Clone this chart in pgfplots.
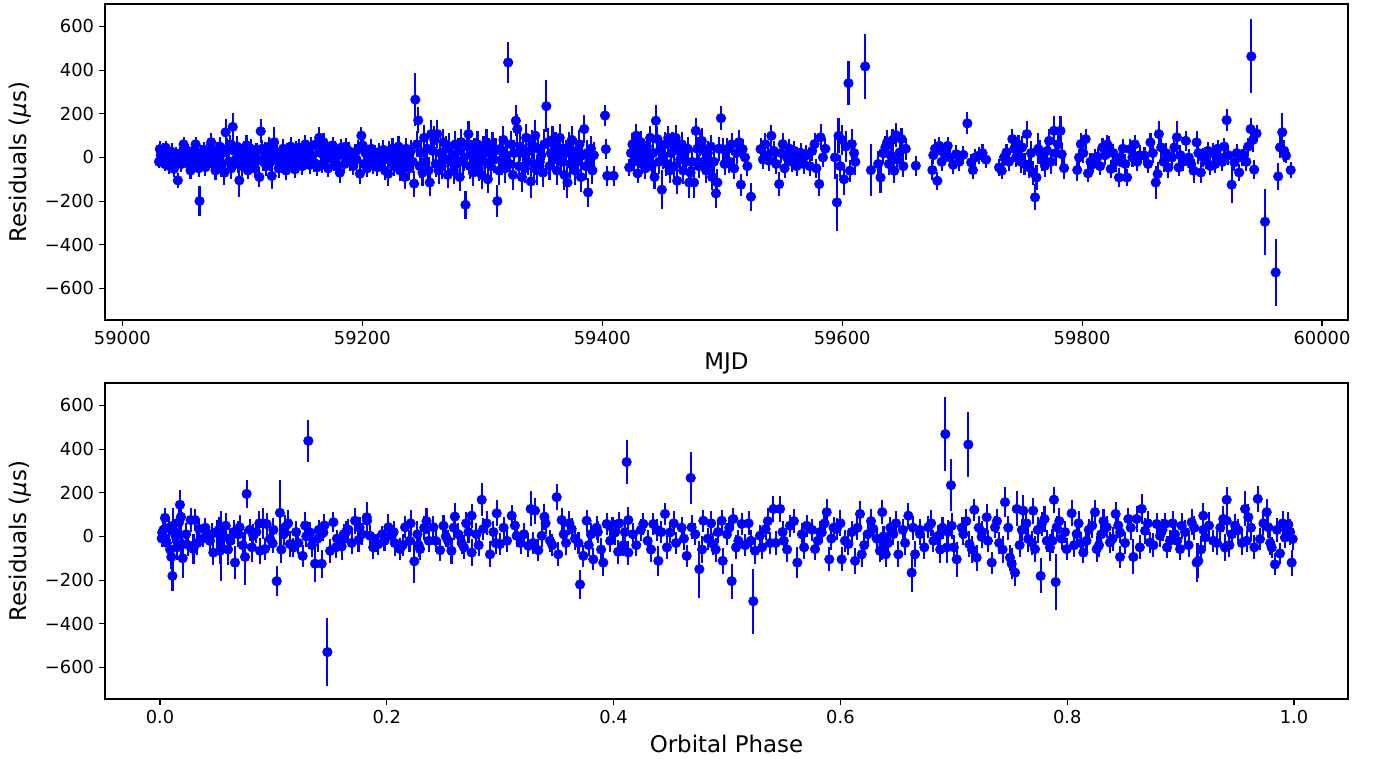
\documentclass[border=0pt]{standalone}
\usepackage{fontspec}
\setmainfont{DejaVu Sans}
\usepackage{pgfplots}
\pgfplotsset{compat=1.18}
\usepackage{pgfplotstable}

\pgfplotstableread{
x y e
59030.5 -20 30
59031.2 38 35
59032.0 10 30
59033.1 -5 40
59034.0 30 35
59035.2 -30 30
59036.0 45 30
59036.8 -15 35
59038.0 20 30
59039.1 -40 35
59040.0 5 30
59041.2 25 40
59042.3 -20 30
59043.0 -53 35
59044.1 0 30
59045.0 15 35
59046.2 -105 35
59047.5 -10 30
59048.3 20 30
59049.2 -30 35
59050.4 5 30
59051.0 60 35
59052.3 10 30
59053.5 -25 35
59054.6 30 30
59055.5 -10 35
59056.8 -60 40
59058.0 15 35
59059.2 -35 30
59060.4 30 35
59061.0 60 35
59062.3 -5 35
59063.5 -50 40
59064.3 -200 70
59065.5 20 35
59066.8 -15 40
59068.0 35 35
59069.2 -45 40
59070.4 10 35
59071.5 -20 40
59072.8 45 35
59074.0 70 40
59075.2 -30 40
59076.5 15 35
59077.6 -60 45
59078.8 30 40
59080.0 -10 40
59081.2 50 45
59082.5 -40 50
59083.6 20 40
59085.0 -70 55
59086.0 115 60
59087.2 40 50
59088.5 -20 45
59089.6 60 45
59090.8 -50 50
59092.0 140 65
59093.2 30 45
59094.4 -10 40
59095.5 50 50
59096.5 -30 40
59097.5 -105 75
59098.8 20 40
59100.0 -40 45
59101.2 35 40
59102.4 -15 40
59103.5 55 50
59104.6 -60 40
59105.8 10 40
59107.0 40 45
59108.2 -30 40
59109.5 15 40
59110.6 -50 45
59111.8 25 40
59113.0 -10 40
59114.2 -90 45
59115.3 120 55
59116.5 40 40
59117.6 -20 40
59118.8 30 40
59120.0 -40 45
59121.0 10 40
59122.3 50 45
59123.5 -20 40
59124.5 -85 60
59125.5 30 45
59126.5 70 70
59127.8 -10 45
59129.0 20 40
59130.2 -50 45
59131.5 10 40
59132.6 -30 40
59134.0 40 45
59135.2 -20 40
59136.5 -60 45
59137.6 25 40
59139.0 -10 40
59140.2 50 45
59141.5 -30 40
59142.6 10 40
59143.8 -55 40
59145.0 35 40
59146.2 -20 40
59147.5 45 40
59148.6 0 40
59150.0 -40 40
59151.2 30 40
59152.5 60 45
59153.6 -10 40
59155.0 25 40
59156.2 -35 40
59157.5 50 45
59158.6 10 40
59160.0 -25 40
59161.2 60 40
59162.5 -45 40
59164.0 90 50
59165.2 20 40
59166.5 -30 40
59167.6 70 40
59169.0 -10 40
59170.2 40 40
59171.5 -50 40
59172.6 30 40
59174.0 0 40
59175.2 55 40
59176.5 -20 40
59177.6 35 40
59179.0 -40 40
59180.2 15 40
59181.2 -70 45
59182.5 45 40
59183.6 10 40
59185.0 -30 40
59186.2 50 40
59187.5 -10 40
59188.6 30 40
59190.0 -20 40
59191.2 5 40
59192.5 -40 40
59194.0 20 40
59195.2 -10 40
59196.5 40 40
59198.0 -75 45
59199.2 100 40
59200.3 55 40
59201.5 -30 40
59202.6 20 40
59204.0 -50 40
59205.2 10 40
59206.5 -20 40
59207.6 40 45
59209.0 -35 40
59210.2 15 40
59211.5 -10 40
59212.6 -45 40
59214.0 25 40
59215.2 -20 40
59216.5 0 50
59217.6 35 45
59219.0 -60 45
59220.2 10 40
59221.5 -75 55
59222.6 30 45
59224.0 -20 45
59225.2 40 50
59226.5 -40 45
59227.6 15 45
59229.0 -15 45
59230.2 50 50
59231.5 -60 50
59232.6 20 45
59234.0 -30 45
59235.5 -90 55
59236.6 40 50
59238.0 0 50
59239.2 -50 55
59240.5 30 50
59242.0 -20 50
59243.2 -120 60
59244.2 265 120
59245.5 60 60
59246.6 170 60
59247.8 -40 55
59249.0 20 55
59250.2 -70 60
59251.5 90 60
59252.6 -20 55
59254.0 40 60
59255.2 -60 60
59256.2 -115 60
59257.5 107 65
59258.6 30 60
59260.0 80 65
59261.2 -30 60
59262.5 107 65
59263.6 -60 60
59265.0 20 60
59266.2 -40 60
59267.5 70 60
59268.6 -10 60
59270.0 40 60
59271.2 -80 60
59272.5 50 60
59273.6 -20 60
59275.0 10 60
59276.2 -60 60
59277.5 60 60
59278.6 -30 60
59280.0 30 60
59281.2 -90 65
59282.5 70 60
59283.6 -20 60
59285.0 0 60
59286.0 -217 65
59287.2 50 60
59288.5 107 60
59289.6 -40 60
59291.0 20 60
59292.2 -70 60
59293.5 30 60
59294.6 -20 60
59296.0 60 60
59297.2 -50 60
59298.5 10 60
59299.6 -80 65
59301.0 40 60
59302.2 -20 60
59303.5 70 60
59304.6 -100 65
59306.0 20 60
59307.2 -40 60
59308.5 50 65
59309.6 -10 60
59311.0 30 60
59312.6 -200 75
59314.0 -60 65
59315.2 40 60
59316.5 -20 60
59317.6 80 65
59319.0 -50 65
59320.2 10 60
59321.6 435 95
59323.0 -30 60
59324.2 60 60
59325.5 -80 70
59326.6 20 60
59328.0 168 70
59329.2 130 70
59330.5 -40 65
59331.6 50 65
59333.0 -90 70
59334.2 20 65
59335.5 -50 65
59336.6 90 65
59338.0 -20 60
59339.2 30 65
59340.5 -110 75
59341.6 60 65
59343.0 -30 65
59344.2 100 70
59345.5 -60 65
59346.6 40 65
59348.0 -20 60
59349.2 10 65
59350.5 -70 65
59351.8 60 70
59353.4 235 120
59354.6 69 65
59356.0 -40 65
59357.2 20 60
59358.5 80 65
59359.6 -10 65
59361.0 50 65
59362.2 -60 65
59363.5 30 60
59364.6 90 65
59366.0 -20 65
59367.2 40 65
59368.5 -80 70
59369.6 20 60
59371.0 -115 70
59372.2 50 65
59373.5 -30 65
59374.6 80 65
59376.0 0 60
59377.2 -60 65
59378.5 30 60
59379.6 -20 65
59381.0 60 65
59382.2 -90 70
59383.5 10 60
59385.0 130 65
59386.2 -40 65
59387.5 20 60
59388.2 -160 65
59389.5 -15 60
59390.6 40 60
59391.8 -60 60
59393.0 10 60
59402.3 192 50
59403.0 38 45
59404.2 -84 45
59409.5 -84 45
59422.5 -46 40
59424.0 20 45
59425.2 60 50
59426.5 -20 40
59427.6 40 45
59428.5 100 55
59429.5 -73 45
59431.0 10 45
59432.2 70 50
59433.5 -30 45
59434.6 30 45
59436.0 -50 50
59437.2 50 50
59438.5 0 50
59440.0 90 55
59441.2 -40 50
59442.5 20 50
59443.6 -90 55
59444.7 168 70
59446.0 84 60
59447.2 -20 55
59448.5 40 55
59449.7 -148 90
59451.0 0 55
59452.2 60 55
59453.5 -30 55
59455.0 90 55
59456.2 -60 55
59457.5 20 55
59458.6 60 55
59460.0 -40 60
59461.2 90 60
59462.5 -107 60
59463.6 30 60
59465.0 -10 60
59466.2 60 55
59467.5 -60 60
59468.6 20 55
59470.0 -20 55
59471.2 40 55
59472.5 -115 70
59473.6 -70 60
59475.0 -20 60
59476.5 -115 70
59478.0 122 60
59479.2 40 55
59480.5 -40 55
59481.6 60 55
59483.0 76 60
59484.2 -20 55
59485.5 30 55
59486.6 -60 55
59488.0 20 55
59489.2 -30 55
59490.5 50 55
59491.6 -90 60
59493.0 -20 55
59494.8 -165 65
59496.0 -115 60
59497.2 40 55
59499.0 180 55
59500.5 38 50
59502.0 -30 50
59504.0 38 50
59506.0 -20 50
59508.0 60 50
59510.0 -50 50
59512.0 20 50
59514.0 70 55
59515.6 -125 50
59517.0 38 45
59519.0 0 45
59521.0 -40 45
59524.0 -180 65
59532.0 38 50
59534.0 -10 45
59536.0 60 50
59538.0 10 45
59539.0 -15 45
59541.0 99 50
59543.0 30 45
59545.0 -30 45
59547.5 -122 55
59549.0 20 45
59550.5 61 50
59552.0 -50 45
59554.0 0 45
59556.0 40 45
59558.0 -20 45
59560.0 30 45
59562.0 -40 45
59564.0 0 45
59566.0 20 45
59568.0 -30 45
59570.0 10 45
59573.0 -40 45
59575.0 30 45
59577.0 61 50
59578.5 -50 45
59580.9 -122 55
59582.0 92 60
59584.0 0 45
59586.0 40 50
59594.0 0 100
59595.6 -206 130
59597.0 99 80
59598.5 -40 50
59600.0 80 70
59601.5 -100 70
59603.0 50 70
59605.3 340 100
59606.5 -61 50
59608.0 61 70
59610.0 20 60
59611.0 -20 60
59619.2 417 150
59624.0 -58 120
59630.0 -30 60
59632.0 -92 70
59634.0 20 50
59636.0 46 50
59637.5 69 55
59639.0 -30 50
59640.5 10 50
59642.0 80 50
59643.5 -61 55
59644.7 102 55
59646.0 -10 50
59648.0 23 50
59649.5 84 50
59651.0 -40 50
59653.0 40 50
59661.4 -38 45
59675.2 -58 45
59676.0 10 40
59677.5 40 45
59679.4 -107 40
59681.0 53 40
59683.0 -20 40
59685.0 20 40
59688.0 53 40
59690.0 0 40
59692.5 -34 40
59695.0 15 40
59697.5 -20 40
59701.0 12 40
59704.4 156 50
59707.5 -23 40
59709.0 -58 40
59711.0 0 40
59714.0 8 40
59717.0 20 40
59720.0 -10 40
59730.8 -46 40
59733.0 -61 40
59735.0 0 40
59737.0 23 40
59739.0 -20 40
59741.9 84 45
59743.5 40 45
59745.0 0 45
59747.0 60 45
59749.0 -20 50
59750.0 46 50
59752.0 -30 50
59754.0 107 60
59756.0 -46 50
59757.5 20 55
59759.0 -70 55
59760.8 -183 60
59762.0 -92 55
59763.5 40 70
59765.0 23 55
59767.0 -10 50
59769.0 -38 50
59771.0 30 55
59772.5 76 55
59774.0 -20 55
59776.6 122 70
59778.0 20 60
59780.0 60 60
59782.0 122 70
59783.0 15 50
59785.0 -49 50
59796.0 -58 50
59797.5 0 40
59799.0 61 50
59801.0 20 45
59803.0 84 45
59805.0 -73 40
59807.0 -20 40
59809.0 -31 40
59811.0 0 40
59813.0 3 40
59815.0 -40 40
59817.0 46 45
59819.0 10 45
59821.0 60 45
59822.5 46 50
59824.0 -53 40
59826.0 20 40
59828.0 -20 45
59830.8 -92 45
59832.0 0 45
59834.0 40 45
59836.0 -30 45
59837.5 -92 40
59840.0 38 45
59842.0 0 45
59844.0 60 45
59846.0 -20 40
59848.0 10 45
59852.0 8 40
59855.0 -30 40
59857.0 69 45
59859.0 20 45
59861.4 -115 75
59863.0 -76 55
59864.0 107 60
59866.0 46 50
59868.0 -20 45
59870.0 20 45
59872.0 -46 50
59875.0 0 40
59877.0 46 40
59879.0 92 75
59880.5 -46 40
59882.0 10 45
59884.0 -20 40
59886.5 76 45
59889.0 0 40
59891.0 -31 40
59893.0 -61 55
59895.5 69 50
59897.0 20 50
59899.0 -69 50
59901.0 0 45
59903.0 -15 40
59905.0 30 40
59907.0 -40 40
59909.0 20 45
59911.0 -30 40
59913.0 40 40
59915.0 0 40
59917.0 -20 40
59918.5 50 40
59920.5 171 50
59922.0 10 45
59924.7 -125 85
59927.0 -23 40
59929.0 20 40
59931.0 -69 40
59933.0 0 40
59935.0 10 40
59937.0 -20 40
59938.5 50 40
59940.5 130 50
59941.1 463 170
59942.5 80 55
59943.5 -56 45
59945.5 110 40
59952.5 -295 150
59961.4 -527 155
59963.5 -87 60
59965.0 46 50
59966.9 115 90
59968.5 30 50
59970.0 8 35
59973.9 -58 35
}\mjddata

\pgfplotstableread{
x y e
0.0015 -9 40
0.0020 18 35
0.0030 30 45
0.0044 85 45
0.0060 -30 40
0.0080 40 50
0.0090 -60 50
0.0100 -94 55
0.0110 -181 70
0.0115 49 80
0.0125 20 60
0.0138 0 50
0.0150 -50 60
0.0168 65 60
0.0176 145 70
0.0185 90 70
0.0190 -35 55
0.0200 -100 90
0.0230 10 50
0.0250 -40 50
0.0270 75 55
0.0295 -58 70
0.0310 75 50
0.0330 -30 55
0.0345 34 45
0.0380 -10 40
0.0400 40 45
0.0412 11 40
0.0440 -20 40
0.0455 10 50
0.0470 -74 55
0.0500 20 55
0.0520 30 60
0.0529 -66 60
0.0536 -43 160
0.0560 0 60
0.0580 49 60
0.0600 -60 70
0.0620 -20 55
0.0650 20 55
0.0661 -120 75
0.0690 10 60
0.0702 42 55
0.0730 -40 60
0.0750 -94 130
0.0764 195 65
0.0790 30 50
0.0810 -50 65
0.0823 3 55
0.0850 20 50
0.0876 60 55
0.0882 -66 60
0.0910 60 70
0.0926 -58 50
0.0940 57 50
0.0970 -10 45
0.0993 -32 45
0.1000 30 55
0.1029 -205 70
0.1058 108 150
0.1070 -60 60
0.1090 10 50
0.1102 42 55
0.1130 60 60
0.1146 -35 60
0.1176 -51 45
0.1200 20 50
0.1220 -30 50
0.1258 -89 50
0.1280 50 60
0.1290 0 50
0.1308 438 95
0.1323 18 50
0.1340 -40 55
0.1367 -125 85
0.1390 -10 60
0.1400 30 45
0.1426 -125 65
0.1441 18 40
0.1450 50 55
0.1476 -530 155
0.1500 -66 55
0.1529 65 45
0.1550 -50 50
0.1560 -10 40
0.1602 -46 60
0.1620 10 45
0.1640 20 50
0.1661 31 50
0.1690 -30 50
0.1720 72 60
0.1750 -17 55
0.1760 40 50
0.1780 10 50
0.1823 88 70
0.1826 72 60
0.1852 3 50
0.1880 -50 55
0.1900 -30 40
0.1926 -35 50
0.1960 10 40
0.1980 -20 45
0.2014 42 60
0.2043 3 50
0.2060 20 50
0.2070 -30 60
0.2117 -58 50
0.2140 -40 50
0.2161 42 50
0.2200 -20 50
0.2210 60 60
0.2243 -114 100
0.2270 10 60
0.2280 -40 55
0.2293 -58 50
0.2330 40 55
0.2350 70 60
0.2370 -20 50
0.2411 42 50
0.2430 -20 50
0.2470 -63 50
0.2500 49 50
0.2520 0 50
0.2540 -20 50
0.2570 -66 60
0.2590 40 55
0.2600 91 60
0.2630 10 50
0.2660 -30 50
0.2680 -50 55
0.2700 60 50
0.2720 20 50
0.2748 95 55
0.2748 -74 60
0.2790 10 50
0.2810 -40 50
0.2837 168 75
0.2851 34 50
0.2880 60 55
0.2910 -82 60
0.2940 20 50
0.2960 -30 50
0.2969 106 60
0.2998 -35 50
0.3030 40 50
0.3060 -20 50
0.3101 95 50
0.3130 50 55
0.3145 3 50
0.3180 -30 50
0.3210 10 50
0.3248 -43 50
0.3269 126 80
0.3290 -30 50
0.3307 118 60
0.3336 -63 50
0.3366 3 50
0.3390 90 60
0.3400 60 50
0.3440 -20 50
0.3460 -40 50
0.3498 180 60
0.3512 -82 55
0.3542 75 55
0.3560 10 50
0.3580 -30 55
0.3610 60 55
0.3630 34 50
0.3660 -10 50
0.3690 -30 50
0.3704 -220 65
0.3733 -89 50
0.3762 72 50
0.3780 -40 50
0.3800 10 50
0.3821 -105 50
0.3850 40 55
0.3860 20 50
0.3890 -60 55
0.3909 -120 60
0.3939 57 50
0.3970 -20 50
0.3990 40 50
0.4012 18 55
0.4040 -70 55
0.4050 60 50
0.4085 -40 50
0.4100 20 55
0.4115 341 100
0.4130 75 60
0.4130 -74 55
0.4170 10 50
0.4200 -40 50
0.4240 30 50
0.4262 57 50
0.4300 -20 50
0.4330 -60 55
0.4350 57 50
0.4380 30 50
0.4395 -112 70
0.4420 20 50
0.4453 103 50
0.4470 -50 55
0.4497 18 50
0.4530 60 55
0.4550 -30 50
0.4600 40 50
0.4620 -10 50
0.4644 -89 50
0.4680 268 120
0.4688 42 55
0.4720 10 50
0.4756 -150 130
0.4780 -60 60
0.4791 72 50
0.4830 -10 50
0.4860 60 55
0.4879 -35 50
0.4900 -60 55
0.4920 20 50
0.4953 72 50
0.4962 -112 60
0.5000 10 50
0.5020 40 50
0.5041 -205 80
0.5056 80 50
0.5080 -50 55
0.5100 -20 50
0.5130 57 50
0.5160 -40 50
0.5190 60 55
0.5210 -20 50
0.5232 -297 150
0.5247 -66 60
0.5290 3 50
0.5310 -50 55
0.5340 34 50
0.5360 70 60
0.5380 -30 50
0.5409 126 60
0.5430 -30 55
0.5468 126 60
0.5490 20 50
0.5500 -20 50
0.5530 -60 55
0.5555 49 50
0.5590 70 55
0.5620 -120 70
0.5660 10 50
0.5680 -50 55
0.5702 49 50
0.5750 30 50
0.5776 -58 50
0.5800 -20 50
0.5820 20 50
0.5835 18 50
0.5860 60 55
0.5879 111 60
0.5902 -105 55
0.5920 -10 50
0.5940 40 50
0.5967 34 50
0.6000 60 60
0.6011 -105 55
0.6040 -20 50
0.6070 -35 50
0.6100 20 50
0.6129 -112 60
0.6150 40 55
0.6173 103 60
0.6188 -82 60
0.6210 -40 55
0.6240 10 50
0.6270 70 55
0.6290 34 50
0.6320 -10 50
0.6348 -66 50
0.6369 111 55
0.6370 -58 50
0.6380 -35 50
0.6380 0 50
0.6400 -82 60
0.6420 -30 55
0.6440 40 50
0.6467 11 50
0.6490 60 55
0.6511 -82 60
0.6550 30 50
0.6570 -30 55
0.6599 95 60
0.6628 -166 90
0.6640 40 55
0.6658 -82 60
0.6700 30 50
0.6702 11 50
0.6740 -50 55
0.6775 42 50
0.6800 60 60
0.6820 -20 50
0.6863 3 50
0.6880 -60 60
0.6900 40 50
0.6925 469 170
0.6937 -51 70
0.6950 20 55
0.6975 235 120
0.6981 49 60
0.7000 -50 55
0.7025 -105 80
0.7070 40 50
0.7084 11 50
0.7110 70 55
0.7128 421 150
0.7137 -35 60
0.7160 -60 60
0.7181 122 50
0.7201 -97 60
0.7220 40 55
0.7245 -2 50
0.7250 20 50
0.7290 88 60
0.7300 -20 50
0.7334 -120 50
0.7363 42 50
0.7380 70 55
0.7400 -30 50
0.7430 -60 60
0.7451 157 70
0.7480 40 55
0.7495 -97 60
0.7510 -125 70
0.7540 -166 60
0.7555 126 80
0.7580 -40 55
0.7600 30 50
0.7613 118 70
0.7640 60 55
0.7657 -12 60
0.7690 -30 55
0.7700 118 60
0.7716 -58 60
0.7740 30 60
0.7766 -181 80
0.7775 57 55
0.7800 80 60
0.7820 -20 50
0.7848 -51 60
0.7870 -20 55
0.7883 168 60
0.7898 -209 130
0.7907 42 50
0.7930 70 60
0.7950 -10 50
0.7980 20 50
0.7995 -58 50
0.8039 106 60
0.8060 -40 55
0.8083 11 50
0.8100 60 55
0.8120 -30 50
0.8142 -74 50
0.8170 -20 55
0.8190 30 50
0.8220 50 55
0.8245 111 55
0.8260 -58 60
0.8280 -40 55
0.8300 10 50
0.8320 70 55
0.8348 42 50
0.8377 -28 50
0.8400 -10 55
0.8427 103 55
0.8450 50 55
0.8466 -94 50
0.8466 18 50
0.8510 -30 50
0.8539 80 50
0.8560 40 55
0.8583 -94 80
0.8612 80 60
0.8640 -50 55
0.8657 126 70
0.8686 26 60
0.8710 60 55
0.8730 -28 50
0.8760 -40 55
0.8789 57 50
0.8818 3 50
0.8840 30 50
0.8862 57 50
0.8880 -50 50
0.8906 -20 50
0.8930 60 55
0.8950 10 50
0.8970 -20 50
0.8995 -58 50
0.9009 49 60
0.9040 20 55
0.9070 -40 55
0.9097 65 60
0.9120 40 55
0.9141 -120 90
0.9156 -112 80
0.9180 -60 60
0.9200 30 50
0.9200 95 60
0.9215 -5 50
0.9250 50 60
0.9288 -20 50
0.9320 -30 55
0.9350 40 55
0.9376 80 60
0.9391 -51 60
0.9406 168 60
0.9406 72 60
0.9430 -40 55
0.9450 10 50
0.9480 50 55
0.9509 29 50
0.9540 -30 55
0.9568 126 80
0.9582 -20 50
0.9597 88 60
0.9620 40 60
0.9650 -50 55
0.9680 172 60
0.9700 -12 50
0.9730 60 55
0.9759 111 60
0.9773 42 50
0.9790 -30 55
0.9803 -51 50
0.9832 -128 50
0.9850 30 55
0.9876 -78 50
0.9900 60 55
0.9920 -5 50
0.9950 54 60
0.9965 20 60
0.9979 -120 60
0.9988 -12 50
}\phasedata

\definecolor{ptblue}{RGB}{0,0,255}

\pgfplotsset{
  resid/.style={
    scale only axis, width=31.075cm, height=7.9cm,
    ymin=-745, ymax=703,
    ytick={-600,-400,-200,0,200,400,600},
    yticklabels={−600,−400,−200,0,200,400,600},
    scaled x ticks=false,
    tick align=outside, xtick pos=bottom, ytick pos=left,
    major tick length=0.15cm,
    tick style={black, line width=0.8pt},
    axis line style={line width=0.8pt},
    ticklabel style={font=\fontsize{12.7}{15}\selectfont},
    every axis y label/.style={at={(axis description cs:-0.0684,0.5)},rotate=90,
      anchor=center, font=\fontsize{16.3}{19}\selectfont},
    ylabel={Residuals (\textit{μ}s)},
  },
  resplot/.style={only marks, mark=*, color=ptblue,
    mark size=3.4pt, mark options={fill=ptblue, draw=ptblue},
    error bars/.cd, y dir=both, y explicit, error mark=none,
    error bar style={line width=1.5pt, ptblue}},
}

\begin{document}
\begin{tikzpicture}
\useasboundingbox (-2.625,0.1) rectangle (31.875,-18.85);
\begin{axis}[resid, at={(0,0)}, anchor=north west,
  xmin=58985.5, xmax=60021.7,
  xtick={59000,59200,59400,59600,59800,60000},
  xticklabels={59000,59200,59400,59600,59800,60000},
  every axis x label/.style={at={(axis description cs:0.5,-0.136)},anchor=center,
    font=\fontsize{16.3}{19}\selectfont},
  xlabel={MJD}]
\addplot[resplot] table[x=x, y=y, y error=e] {\mjddata};
\end{axis}
\begin{axis}[resid, at={(0,-9.475cm)}, anchor=north west,
  xmin=-0.0485, xmax=1.0476,
  xtick={0,0.2,0.4,0.6,0.8,1.0},
  xticklabels={0.0,0.2,0.4,0.6,0.8,1.0},
  every axis x label/.style={at={(axis description cs:0.5,-0.143)},anchor=center,
    font=\fontsize{16.3}{19}\selectfont},
  xlabel={Orbital Phase}]
\addplot[resplot] table[x=x, y=y, y error=e] {\phasedata};
\end{axis}
\end{tikzpicture}
\end{document}
